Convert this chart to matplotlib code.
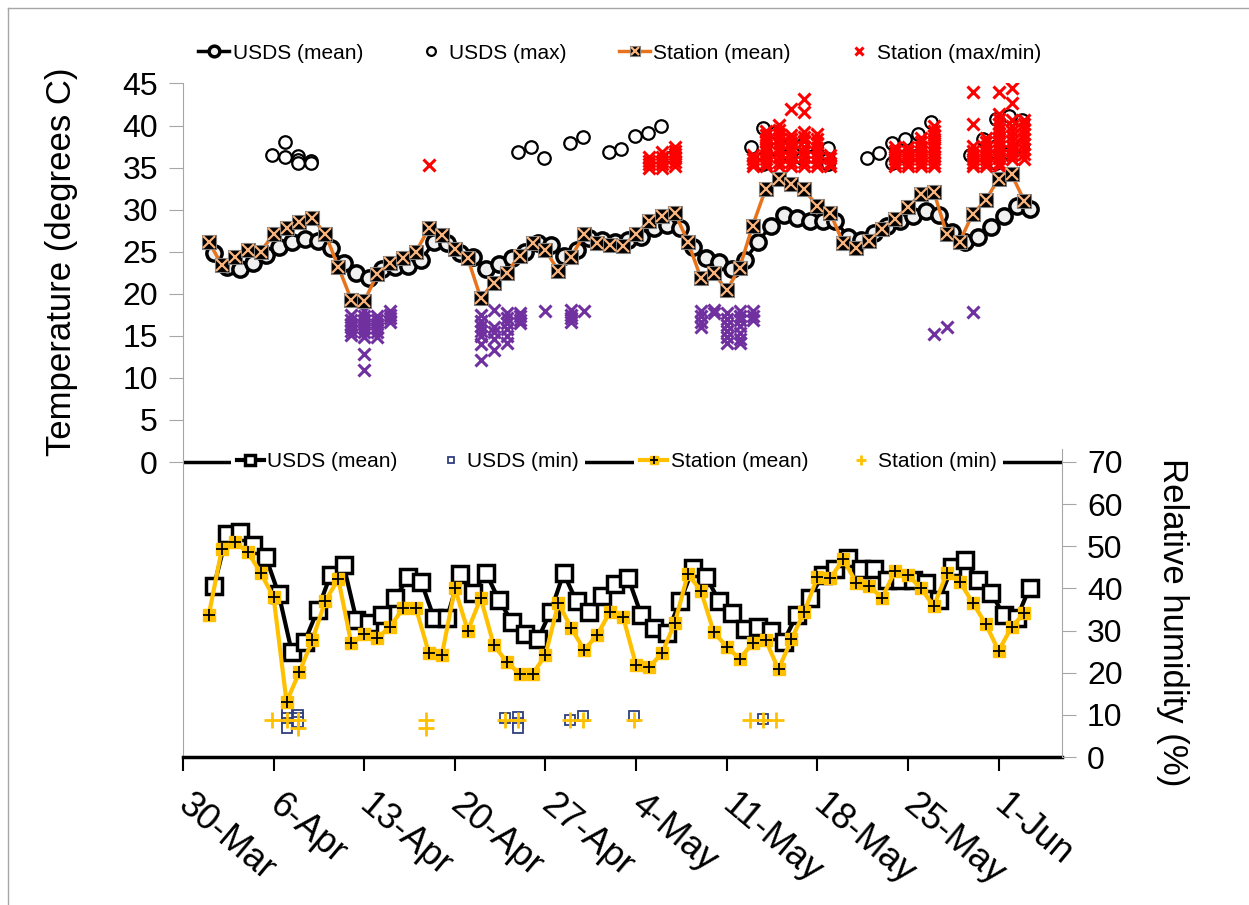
import numpy as np
import matplotlib
matplotlib.use('Agg')
import matplotlib.pyplot as plt
import matplotlib.transforms as mtransforms
from matplotlib.lines import Line2D

plt.rcParams['font.family'] = ['Liberation Sans', 'DejaVu Sans']

# x axis is counted in days from 30 March
tick_days = [0, 7, 14, 21, 28, 35, 42, 49, 56, 63]
tick_labels = ['30-Mar', '6-Apr', '13-Apr', '20-Apr', '27-Apr', '4-May',
               '11-May', '18-May', '25-May', '1-Jun']

# daily series, 1 Apr .. 3 Jun
days = np.arange(2, 66)

stn_temp = [26.2, 23.4, 24.4, 25.2, 25.0, 27.1, 27.8, 28.5, 29.0, 27.1,
            23.2, 19.3, 19.1, 22.3, 23.7, 24.2, 25.0, 27.8, 27.0, 25.3,
            24.2, 19.5, 21.3, 22.5, 24.5, 26.0, 25.2, 22.7, 24.4, 27.1,
            26.0, 25.8, 25.7, 27.1, 28.7, 29.3, 29.6, 26.2, 21.9, 22.5,
            20.4, 23.1, 28.1, 32.4, 33.6, 33.1, 32.4, 30.4, 29.6, 26.0,
            25.5, 26.3, 27.7, 28.9, 30.3, 31.9, 32.1, 27.1, 26.2, 29.5,
            31.1, 33.7, 34.2, 31.0]

usds_temp = [24.9, 23.2, 22.9, 23.6, 24.6, 25.6, 26.1, 26.5, 26.3, 25.4,
             23.7, 22.5, 21.9, 22.9, 23.2, 23.3, 24.0, 26.2, 26.0, 24.9,
             24.4, 22.9, 23.5, 24.2, 25.0, 26.0, 25.8, 24.5, 25.2, 26.6,
             26.4, 26.2, 26.4, 26.8, 27.8, 28.2, 27.8, 25.6, 24.2, 23.8,
             23.0, 24.0, 26.1, 28.1, 29.4, 29.0, 28.6, 28.6, 28.6, 26.8,
             26.4, 27.2, 28.1, 28.6, 29.2, 29.8, 29.4, 27.4, 26.1, 26.8,
             27.9, 29.3, 30.4, 30.1]

usds_rh = [40.6, 52.9, 53.5, 50.3, 47.4, 38.6, 25.0, 27.4, 34.9, 43.2,
           45.6, 32.5, 31.7, 33.7, 37.7, 42.8, 41.6, 32.9, 33.1, 43.5,
           38.8, 43.7, 37.3, 32.1, 29.2, 27.9, 34.5, 43.6, 36.9, 34.5,
           38.2, 41.1, 42.4, 33.7, 30.5, 29.5, 36.9, 44.8, 42.8, 37.1,
           34.1, 30.3, 30.9, 29.8, 27.4, 33.7, 37.7, 43.2, 44.5, 47.1,
           44.7, 44.5, 42.0, 42.0, 42.0, 41.4, 37.3, 45.0, 46.7, 42.1,
           39.0, 33.7, 32.9, 40.2]

stn_rh = [33.8, 49.3, 50.9, 48.7, 43.7, 37.9, 13.1, 20.2, 27.8, 37.1,
          42.2, 27.0, 29.1, 28.2, 30.9, 35.3, 35.3, 24.6, 24.2, 40.0,
          30.0, 37.7, 26.6, 22.6, 19.7, 19.7, 24.2, 36.6, 30.5, 25.4,
          29.0, 34.5, 33.2, 21.8, 21.3, 24.6, 31.9, 43.4, 39.5, 29.6,
          26.2, 23.3, 27.0, 27.8, 20.8, 27.9, 34.5, 42.6, 42.4, 46.9,
          41.4, 40.6, 37.7, 44.2, 43.2, 40.0, 35.8, 43.6, 41.6, 36.6,
          31.6, 25.2, 30.8, 34.2]

# station hourly readings above 35 C, per day
stn_hot_days = [19, 36, 37, 38, 44, 45, 46, 47, 48, 49, 50,
                55, 56, 57, 58, 61, 62, 63, 64, 65]
stn_hot_vals = [
    [35.3],
    [35.0, 35.4, 35.8, 36.2],
    [35.0, 35.4, 35.8, 36.3, 36.8],
    [35.2, 35.7, 36.1, 36.6, 37.0, 37.5],
    [35.2, 35.6, 36.0, 36.5],
    [35.2, 35.6, 36.0, 36.5, 37.0, 37.5, 38.0, 38.4, 38.9, 39.3],
    [35.2, 35.7, 36.2, 36.8, 37.3, 37.9, 38.5, 39.0, 39.5, 40.1],
    [35.2, 35.7, 36.2, 36.8, 37.3, 37.9, 38.4, 38.9, 42.0],
    [35.2, 35.7, 36.3, 36.9, 37.5, 38.1, 38.6, 39.2, 41.6, 43.2],
    [35.2, 35.7, 36.2, 36.8, 37.3, 37.9, 38.4, 39.0],
    [35.2, 35.6, 36.1, 36.5],
    [35.2, 35.6, 36.0, 36.5, 37.0, 37.5],
    [35.2, 35.6, 36.0, 36.5, 37.0, 37.5],
    [35.2, 35.6, 36.0, 36.5, 37.0, 37.5, 38.0, 38.5],
    [35.2, 35.6, 36.0, 36.4, 36.9, 37.4, 37.9, 38.4, 38.9, 39.4, 39.9],
    [35.2, 35.6, 36.0, 36.5, 37.0, 37.6, 40.2, 44.0],
    [35.2, 35.6, 36.0, 36.5, 37.0, 37.5, 38.0, 38.5],
    [35.2, 35.6, 36.1, 36.6, 37.1, 37.6, 38.1, 38.6, 39.1, 39.6, 40.2,
     40.8, 41.4, 44.0],
    [36.0, 36.5, 37.0, 37.6, 38.2, 38.8, 39.4, 40.0, 40.6, 42.7, 44.5],
    [36.0, 36.6, 37.2, 37.8, 38.4, 39.0, 39.6, 40.2, 40.7],
]

# station hourly readings below 18 C, per day
stn_cold_days = [13, 14, 15, 16, 23, 24, 25, 26, 28, 30, 31,
                 40, 41, 42, 43, 44, 58, 59, 61]
stn_cold_vals = [
    [15.1, 15.6, 16.0, 16.4, 16.9, 17.5],
    [11.0, 12.9, 14.9, 15.4, 15.9, 16.4, 16.9, 17.4, 18.0],
    [14.9, 15.4, 15.9, 16.4, 16.9, 17.4],
    [16.7, 17.1, 17.5, 17.9],
    [12.1, 14.0, 15.0, 15.6, 16.2, 16.8, 17.5],
    [13.3, 14.6, 15.4, 16.0, 18.1],
    [14.2, 15.0, 15.8, 16.5, 17.1, 17.7],
    [16.5, 16.9, 17.3, 17.7],
    [18.0],
    [16.7, 17.1, 17.5, 18.1],
    [18.0],
    [16.1, 16.7, 17.3, 17.9],
    [17.7, 18.1],
    [14.2, 14.9, 15.6, 16.3, 17.0, 17.7],
    [14.2, 14.6, 15.3, 16.2, 16.9, 17.4, 17.9],
    [16.9, 17.3, 17.9],
    [15.2],
    [16.0],
    [17.8],
]

# USDS hourly readings above 35 C
usds_hot_t = [6.9, 7.9, 7.9, 8.9, 8.9, 8.9, 9.9, 9.9,
              25.9, 26.9, 27.9, 29.9, 30.9, 32.9, 33.8, 34.9, 35.9, 36.9, 37.8,
              43.9, 44.8, 44.8, 44.8, 45.8, 45.8, 46.8, 46.8, 47.8, 47.8,
              48.7, 49.8, 49.8, 49.8,
              52.8, 53.8, 54.8, 54.8, 55.8, 55.8, 56.8, 56.8, 57.8,
              60.8, 61.8, 62.8, 62.8, 62.8, 63.8, 63.8, 64.8, 64.8]
usds_hot_v = [36.5, 38.0, 36.2, 36.4, 35.9, 35.5, 35.8, 35.5,
              36.9, 37.5, 36.1, 37.9, 38.6, 36.8, 37.2, 38.7, 39.1, 39.9, 36.3,
              37.5, 39.7, 36.1, 35.4, 39.2, 37.2, 37.7, 36.5, 37.7, 36.1,
              36.4, 37.3, 36.0, 35.4,
              36.1, 36.7, 37.9, 35.6, 38.4, 36.4, 39.0, 36.5, 40.4,
              36.5, 38.4, 40.8, 37.6, 35.6, 41.1, 36.7, 40.7, 37.6]

# hourly relative humidity below 10 %
usds_dry_t = [8.0, 8.0, 8.0, 8.0, 8.9, 8.9, 8.9, 24.9, 25.9, 25.9, 25.9,
              29.9, 30.9, 34.8, 44.8]
usds_dry_v = [10.4, 9.3, 8.1, 6.9, 10.0, 9.3, 8.3, 9.3, 9.5, 8.1, 6.9,
              8.8, 9.7, 9.7, 9.0]
stn_dry_t = [6.85, 8.0, 8.9, 8.9, 18.8, 18.8, 24.9, 25.9, 29.9, 30.9,
             34.8, 43.8, 44.8, 45.8]
stn_dry_v = [8.8, 8.8, 8.8, 6.9, 8.8, 6.9, 8.8, 8.8, 8.8, 8.8,
             8.8, 8.8, 8.8, 8.8]

usds_days = days + 0.4

orange = '#e8731d'
gold = '#ffc000'
purple = '#7030a0'
grey = '#a6a6a6'

fig = plt.figure(figsize=(12.49, 9.05), dpi=100)
ax = fig.add_axes([0.1465, 0.1635, 0.7038, 0.7443])
ax2 = ax.twinx()

# temperature
l_um, = ax.plot(usds_days, usds_temp, '-o', color='black', lw=2.5, ms=11,
                mfc='#f0f0f0', mec='black', mew=2.5, zorder=3)
l_sm, = ax.plot(days, stn_temp, '-s', color=orange, lw=2.5, ms=10,
                mfc='black', mec='#7f7f7f', mew=0.8, zorder=4)
l_sx, = ax.plot(days, stn_temp, 'x', color='#f8b27c', ms=8, mew=1.6,
                zorder=5)
l_ux, = ax.plot(usds_hot_t, usds_hot_v, 'o', ls='none', ms=9, mfc='white',
                mec='black', mew=1.6, zorder=3)
hot_x = np.repeat(stn_hot_days, [len(v) for v in stn_hot_vals])
hot_y = np.concatenate(stn_hot_vals)
l_hot, = ax.plot(hot_x, hot_y, 'x', ls='none', color='red', ms=8.5,
                 mew=2.2, zorder=3)
cold_x = np.repeat(stn_cold_days, [len(v) for v in stn_cold_vals])
cold_y = np.concatenate(stn_cold_vals)
ax.plot(cold_x, cold_y, 'x', ls='none', color=purple, ms=8.5, mew=2.2,
        zorder=3)
ax.axhline(0, color='black', lw=2.5, zorder=2)

# humidity
r_um, = ax2.plot(usds_days, usds_rh, '-s', color='black', lw=3, ms=11,
                 mfc='white', mec='black', mew=2.5, zorder=3)
r_sm, = ax2.plot(days, stn_rh, '-s', color=gold, lw=3, ms=9, mfc=gold,
                 mec=gold, zorder=4)
r_sp, = ax2.plot(days, stn_rh, '+', color='black', ms=9, mew=1.3, zorder=5)
r_ud, = ax2.plot(usds_dry_t, usds_dry_v, 's', ls='none', ms=7, mfc='white',
                 mec='#2f3f7f', mew=1.3, zorder=3)
r_sd, = ax2.plot(stn_dry_t, stn_dry_v, '+', ls='none', color=gold, ms=11,
                 mew=2, zorder=4)

ax.set_xlim(0, 67.9)
ax.set_ylim(-35.06, 45)
ax2.set_ylim(0, 159.8)

ax.set_yticks(range(0, 50, 5))
ax2.set_yticks(range(0, 80, 10))
ax.set_xticks(tick_days)
ax.set_xticklabels([])

# slanted date labels hanging below each tick
lbl_trans = (mtransforms.blended_transform_factory(ax.transData, ax.transAxes)
             + mtransforms.ScaledTranslation(11 / 100, -30 / 100,
                                             fig.dpi_scale_trans))
for d, lab in zip(tick_days, tick_labels):
    ax.text(d, 0, lab, transform=lbl_trans, rotation=-40, ha='left',
            va='top', rotation_mode='anchor', fontsize=26, clip_on=False)

for s in ['top', 'right']:
    ax.spines[s].set_visible(False)
for s in ['top', 'left', 'bottom']:
    ax2.spines[s].set_visible(False)
ax.spines['left'].set_color(grey)
ax.spines['bottom'].set_color('black')
ax.spines['bottom'].set_linewidth(2.5)
ax2.spines['right'].set_color(grey)
ax2.spines['right'].set_bounds(0, 73)

ax.tick_params(axis='y', direction='out', length=10, color=grey,
               labelsize=23, pad=8)
ax2.tick_params(axis='y', direction='out', length=10, color=grey,
                labelsize=23, pad=8)
ax.tick_params(axis='x', direction='out', length=10, width=1.5,
               color='black')

fig.text(62 / 1249, 1 - 262 / 905, 'Temperature (degrees C)', rotation=90,
         ha='center', va='center', fontsize=25)
fig.text(1172 / 1249, 1 - 622 / 905, 'Relative humidity (%)', rotation=270,
         ha='center', va='center', fontsize=25)

# legends
leg_top = ax2.legend([l_um, l_ux, (l_sm, l_sx), l_hot],
                     ['USDS (mean)', 'USDS (max)', 'Station (mean)',
                      'Station (max/min)'],
                     loc='center', bbox_to_anchor=(0.497, 1.045), ncol=4,
                     frameon=False, fontsize=15, handlelength=1.5,
                     handletextpad=0.15, columnspacing=2.5, markerscale=0.7)
ax2.add_artist(leg_top)

leg_b1 = ax2.legend([r_um, r_ud], ['USDS (mean)', 'USDS (min)'],
                    loc='center', bbox_to_anchor=(0.2560, 0.438), ncol=2,
                    frameon=True, facecolor='white', edgecolor='none',
                    framealpha=1, fancybox=False, fontsize=15,
                    handlelength=1.3, handletextpad=0.15, columnspacing=1.9,
                    markerscale=0.7, borderpad=0.3, borderaxespad=0)
leg_b1.set_zorder(10)
ax2.add_artist(leg_b1)

leg_b2 = ax2.legend([(r_sm, r_sp), r_sd], ['Station (mean)', 'Station (min)'],
                    loc='center', bbox_to_anchor=(0.7230, 0.438), ncol=2,
                    frameon=True, facecolor='white', edgecolor='none',
                    framealpha=1, fancybox=False, fontsize=15,
                    handlelength=1.3, handletextpad=0.15, columnspacing=1.9,
                    markerscale=0.7, borderpad=0.3, borderaxespad=0)
leg_b2.set_zorder(10)

# outer frame
fig.add_artist(Line2D([8 / 1249, 8 / 1249], [0, 1 - 8 / 905], color=grey,
                      lw=1))
fig.add_artist(Line2D([8 / 1249, 1], [1 - 8 / 905, 1 - 8 / 905], color=grey,
                      lw=1))

fig.savefig('out.png', dpi=100)
